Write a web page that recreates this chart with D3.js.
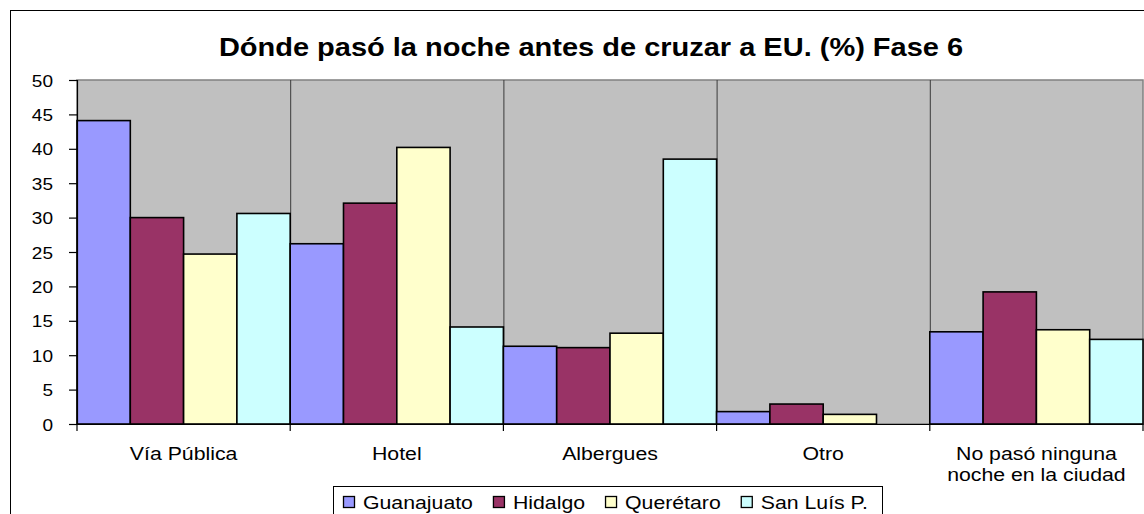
<!DOCTYPE html>
<html>
<head>
<meta charset="utf-8">
<script src="https://cdn.jsdelivr.net/npm/d3@7"></script>
<style>
  html, body { margin: 0; padding: 0; background: #fff; }
  svg { display: block; }
  text { font-family: "Liberation Sans", Arial, sans-serif; fill: #000; }
</style>
</head>
<body>
<svg id="chart" width="1144" height="514"></svg>
<script>
// Lugar donde pasaron la noche antes de cruzar, por estado (%)
const categories = [["Vía Pública"], ["Hotel"], ["Albergues"], ["Otro"], ["No pasó ninguna", "noche en la ciudad"]];
const seriesNames = ["Guanajuato", "Hidalgo", "Querétaro", "San Luís P."];
const guanajuato = [44.1, 26.2, 11.3, 1.8, 13.4];
const hidalgo    = [30.0, 32.1, 11.1, 2.9, 19.2];
const queretaro  = [24.7, 40.2, 13.2, 1.4, 13.7];
const sanLuis    = [30.6, 14.1, 38.5, 0.0, 12.3];
const yTicks = [0, 5, 10, 15, 20, 25, 30, 35, 40, 45, 50];
const colors = ["#9999FF", "#993366", "#FFFFCC", "#CCFFFF"];
const title = "Dónde pasó la noche antes de cruzar a EU. (%) Fase 6";

const series = [guanajuato, hidalgo, queretaro, sanLuis];
const svg = d3.select("#chart");
const W = 1144, H = 514;
const plot = { left: 77, right: 1143, top: 80, bottom: 424 };

svg.append("rect").attr("width", W).attr("height", H).attr("fill", "#fff");

// chart frame
svg.append("rect")
  .attr("x", 10.5).attr("y", 10.5)
  .attr("width", W + 20).attr("height", H + 20)
  .attr("fill", "none").attr("stroke", "#000").attr("stroke-width", 1);

// lettering is slightly widened horizontally
function stretchedText(g, x, y, str, anchor, size, sx) {
  return g.append("text")
    .attr("transform", `translate(${x},${y}) scale(${sx},1)`)
    .attr("text-anchor", anchor)
    .attr("font-size", size)
    .text(str);
}

// title
stretchedText(svg, 591, 56, title, "middle", 25, 1.16).attr("font-weight", "bold");

const x0 = d3.scaleBand()
  .domain(d3.range(categories.length))
  .range([plot.left, plot.right])
  .paddingInner(0).paddingOuter(0);
const x1 = d3.scaleBand()
  .domain(d3.range(seriesNames.length))
  .range([0, x0.bandwidth()])
  .padding(0);
const y = d3.scaleLinear().domain([0, 50]).range([plot.bottom, plot.top]);

// plot area
svg.append("rect")
  .attr("x", plot.left).attr("y", plot.top)
  .attr("width", plot.right - plot.left).attr("height", plot.bottom - plot.top)
  .attr("fill", "#C0C0C0").attr("stroke", "#808080").attr("stroke-width", 1.5);

// vertical gridlines at category boundaries
const bounds = d3.range(1, categories.length).map(i => x0(i));
svg.append("g").selectAll("line").data(bounds).join("line")
  .attr("x1", d => d + 0.5).attr("x2", d => d + 0.5)
  .attr("y1", plot.top).attr("y2", plot.bottom)
  .attr("stroke", "#3a3a3a").attr("stroke-width", 1);

// bars
const groups = svg.append("g").selectAll("g").data(categories.map((c, i) => i)).join("g")
  .attr("transform", i => `translate(${x0(i)},0)`);
groups.selectAll("rect")
  .data(i => series.map((s, k) => ({ k, v: s[i] })))
  .join("rect")
  .attr("x", d => x1(d.k))
  .attr("y", d => y(d.v))
  .attr("width", x1.bandwidth())
  .attr("height", d => y(0) - y(d.v))
  .attr("fill", d => colors[d.k])
  .attr("stroke", d => d.v > 0 ? "#000" : "none")
  .attr("stroke-width", 1.6);

// y axis
const yAxis = svg.append("g")
  .attr("transform", `translate(${plot.left},0)`)
  .call(d3.axisLeft(y).tickValues(yTicks).tickSize(8).tickFormat(d3.format("d")));
yAxis.select(".domain").attr("stroke", "#000").attr("stroke-width", 1.2);
yAxis.selectAll(".tick line").attr("stroke", "#000").attr("stroke-width", 1.2);
yAxis.selectAll(".tick text").remove();
yAxis.selectAll(".tick").each(function (d) {
  stretchedText(d3.select(this), -24, 6, String(d), "end", 17, 1.12);
});

// x axis
const xAxis = svg.append("g").attr("transform", `translate(0,${plot.bottom})`);
xAxis.append("line")
  .attr("x1", plot.left).attr("x2", plot.right)
  .attr("y1", 0.5).attr("y2", 0.5)
  .attr("stroke", "#000").attr("stroke-width", 1.2);
const tickXs = d3.range(0, categories.length + 1).map(i => i < categories.length ? x0(i) : x0.range()[1]);
xAxis.selectAll("line.tk").data(tickXs).join("line").attr("class", "tk")
  .attr("x1", d => d).attr("x2", d => d)
  .attr("y1", 0).attr("y2", 7)
  .attr("stroke", "#000").attr("stroke-width", 1.2);
categories.forEach((lines, i) => {
  const cx = x0(i) + x0.bandwidth() / 2;
  lines.forEach((ln, j) => {
    stretchedText(xAxis, cx, 36 + j * 21, ln, "middle", 18.5, 1.15);
  });
});

// legend
const legend = svg.append("g");
legend.append("rect")
  .attr("x", 333.5).attr("y", 486.5).attr("width", 549).attr("height", 40)
  .attr("fill", "#fff").attr("stroke", "#000").attr("stroke-width", 1);
let lx = 343;
seriesNames.forEach((name, k) => {
  legend.append("rect")
    .attr("x", lx + 0.5).attr("y", 496.5).attr("width", 11).attr("height", 11)
    .attr("fill", colors[k]).attr("stroke", "#000").attr("stroke-width", 1.3);
  const t = stretchedText(legend, lx + 20, 509, name, "start", 18.5, 1.15);
  const w = t.node().getComputedTextLength() * 1.15;
  lx += 20 + w + 20;
});
</script>
</body>
</html>
